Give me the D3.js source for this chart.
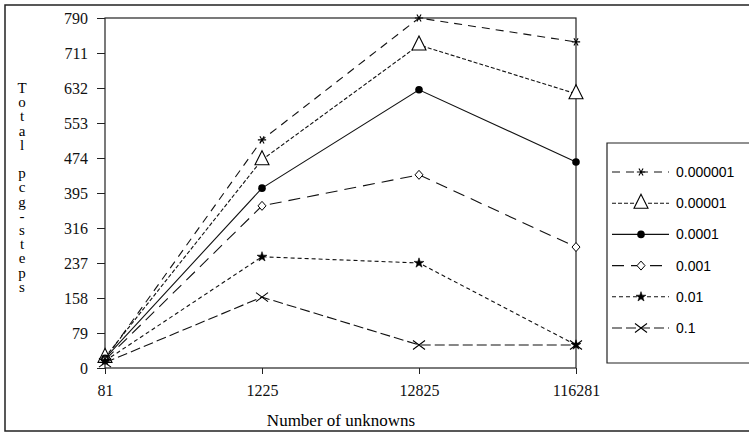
<!DOCTYPE html>
<html>
<head>
<meta charset="utf-8">
<script src="https://cdn.jsdelivr.net/npm/d3@7"></script>
<style>
  body { margin: 0; background: #fff; }
  svg { display: block; }
</style>
</head>
<body>
<svg width="749" height="436"></svg>
<script>
var unknowns = ["81", "1225", "12825", "116281"];
var yTicks = [0, 79, 158, 237, 316, 395, 474, 553, 632, 711, 790];
var tolerances = ["0.000001", "0.00001", "0.0001", "0.001", "0.01", "0.1"];
var steps_1e6 = [20, 515, 790, 736];
var steps_1e5 = [24, 470, 729, 619];
var steps_1e4 = [22, 406, 628, 465];
var steps_1e3 = [18, 366, 436, 273];
var steps_1e2 = [16, 251, 237, 52];
var steps_1e1 = [12, 160, 52, 52];

var series = [
  {name: tolerances[0], values: steps_1e6, dash: "8,6", marker: "asterisk"},
  {name: tolerances[1], values: steps_1e5, dash: "4,2", marker: "triangle"},
  {name: tolerances[2], values: steps_1e4, dash: null, marker: "circle"},
  {name: tolerances[3], values: steps_1e3, dash: "12,7", marker: "diamond"},
  {name: tolerances[4], values: steps_1e2, dash: "4,3", marker: "star"},
  {name: tolerances[5], values: steps_1e1, dash: "10,4", marker: "x"}
];

(function() {
  var svg = d3.select("svg");
  var plotL = 105, plotR = 576, plotT = 18, plotB = 368;
  var serif = "'Liberation Serif', 'DejaVu Serif', serif";

  var x = d3.scalePoint().domain(unknowns).range([plotL, plotR]);
  var y = d3.scaleLinear().domain([0, 790]).range([plotB, plotT]);

  // outer frame
  svg.append("path")
      .attr("d", "M749,5H5V431H749")
      .attr("fill", "none").attr("stroke", "#222").attr("stroke-width", 1.5);

  // plot frame
  svg.append("rect")
      .attr("x", plotL).attr("y", plotT)
      .attr("width", plotR - plotL).attr("height", plotB - plotT)
      .attr("fill", "none").attr("stroke", "#222").attr("stroke-width", 1.2);

  var yAxis = svg.append("g")
      .attr("transform", "translate(" + plotL + ",0)")
      .call(d3.axisLeft(y).tickValues(yTicks).tickSize(8).tickPadding(9).tickSizeOuter(0));
  yAxis.select(".domain").remove();

  var xAxis = svg.append("g")
      .attr("transform", "translate(0," + plotB + ")")
      .call(d3.axisBottom(x).tickSize(6).tickPadding(11).tickSizeOuter(0));
  xAxis.select(".domain").remove();
  svg.selectAll(".tick line").attr("stroke", "#222");
  svg.selectAll(".tick text")
      .style("font-family", serif).style("font-size", "16px").attr("fill", "#111");

  // axis titles
  svg.append("text")
      .attr("x", 341).attr("y", 426)
      .attr("text-anchor", "middle")
      .style("font-family", serif)
      .style("font-size", "17px")
      .text("Number of unknowns");

  // stacked vertical label, upright letters
  svg.append("text")
      .attr("x", 22).attr("y", 80)
      .style("writing-mode", "vertical-rl")
      .style("text-orientation", "upright")
      .style("letter-spacing", "-1.8px")
      .style("font-family", serif)
      .style("font-size", "15px")
      .text("Total pcg-steps");

  function marker(sel, type) {
    if (type == "circle") {
      sel.append("circle").attr("r", 3.8).attr("fill", "#000");
    } else if (type == "triangle") {
      sel.append("path").attr("d", "M0,-9L7,5H-7Z")
        .attr("fill", "#fff").attr("stroke", "#000").attr("stroke-width", 1.1);
    } else if (type == "diamond") {
      sel.append("path").attr("d", "M0,-4.5L4,0L0,4.5L-4,0Z")
        .attr("fill", "#fff").attr("stroke", "#000").attr("stroke-width", 1);
    } else if (type == "asterisk") {
      sel.append("path").attr("d", d3.symbol(d3.symbolAsterisk, 48)())
        .attr("fill", "none").attr("stroke", "#000").attr("stroke-width", 1.1)
        .attr("transform", "rotate(90)");
    } else if (type == "star") {
      sel.append("path").attr("d", d3.symbol(d3.symbolStar, 30)())
        .attr("fill", "#000").attr("stroke", "#000").attr("stroke-width", 0.6);
    } else if (type == "x") {
      sel.append("path").attr("d", "M-6,-4.5L6,4.5M-6,4.5L6,-4.5")
        .attr("fill", "none").attr("stroke", "#000").attr("stroke-width", 1.1);
    }
  }

  var line = d3.line()
      .x(function(d, i) { return x(unknowns[i]); })
      .y(function(d) { return y(d); });

  var sg = svg.append("g").selectAll("g")
      .data(series)
      .enter().append("g");

  sg.append("path")
      .attr("d", function(d) { return line(d.values); })
      .attr("fill", "none")
      .attr("stroke", "#111")
      .attr("stroke-width", 1.1)
      .attr("stroke-dasharray", function(d) { return d.dash; });

  sg.each(function(s) {
    d3.select(this).selectAll("g.pt")
      .data(s.values)
      .enter().append("g")
      .attr("class", "pt")
      .attr("transform", function(d, i) { return "translate(" + x(unknowns[i]) + "," + y(d) + ")"; })
      .each(function() { marker(d3.select(this), s.marker); });
  });

  // legend
  var lg = svg.append("g");
  lg.append("path")
      .attr("d", "M749,143H607V363H749")
      .attr("fill", "#fff").attr("stroke", "#222").attr("stroke-width", 1.2);

  var row = lg.selectAll("g.row")
      .data(series)
      .enter().append("g")
      .attr("class", "row")
      .attr("transform", function(d, i) { return "translate(0," + (172 + i * 31.2) + ")"; });

  row.append("line")
      .attr("x1", 612).attr("x2", 669)
      .attr("stroke", "#111").attr("stroke-width", 1.1)
      .attr("stroke-dasharray", function(d) { return d.dash; });

  row.append("g")
      .attr("transform", "translate(641,0)")
      .each(function(d) { marker(d3.select(this), d.marker); });

  row.append("text")
      .attr("x", 676).attr("y", 5)
      .style("font-family", "'Liberation Sans', Arial, sans-serif")
      .style("font-size", "14px")
      .text(function(d) { return d.name; });
})();
</script>
</body>
</html>
